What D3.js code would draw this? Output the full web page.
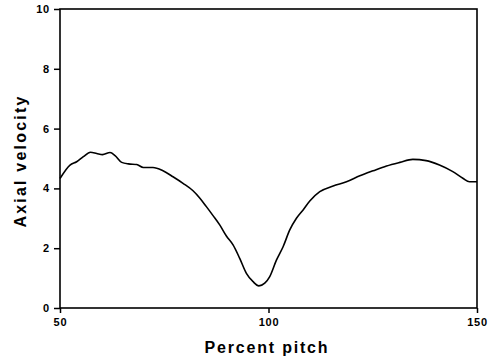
<!DOCTYPE html>
<html>
<head>
<meta charset="utf-8">
<script src="https://cdn.jsdelivr.net/npm/d3@7"></script>
<style>
  body { margin: 0; background: #fff; }
  text { font-family: "Liberation Sans", Arial, Helvetica, sans-serif; font-weight: bold; }
</style>
</head>
<body>
<div id="chart"></div>
<script>
// valores
const pitch = [50, 52.4, 54, 55.6, 57.3, 58.8, 60.2, 62, 63.2, 64.8, 66.4, 68.4, 70, 72.3, 74.7, 77.1, 79.5, 81.9,
  83.5, 85.1, 86.7, 88.3, 89.9, 91.5, 93.1, 94.7, 96.3, 97.7, 99.1, 100.3, 101.9, 103.5, 105.1, 106.7, 108.3,
  109.9, 112.3, 115.5, 118.7, 121.9, 125.1, 128.3, 131.5, 134.6, 137.8, 141, 144.2, 146.6, 148.2, 150];
const velocity = [4.33, 4.78, 4.89, 5.06, 5.21, 5.17, 5.13, 5.2, 5.1, 4.87, 4.82, 4.8, 4.7, 4.7, 4.59, 4.39, 4.17, 3.92,
  3.68, 3.39, 3.09, 2.78, 2.41, 2.11, 1.66, 1.16, 0.88, 0.74, 0.83, 1.05, 1.6, 2.05, 2.61, 3.0, 3.28,
  3.58, 3.89, 4.08, 4.22, 4.42, 4.59, 4.75, 4.87, 4.97, 4.93, 4.78, 4.56, 4.34, 4.22, 4.22];
const xTicks = [50, 100, 150];
const yTicks = [0, 2, 4, 6, 8, 10];

const svg = d3.select("#chart").append("svg").attr("width", 488).attr("height", 360);
const margin = { top: 9, right: 11, bottom: 52, left: 60 };
const width = 488 - margin.left - margin.right;
const height = 360 - margin.top - margin.bottom;

const g = svg.append("g").attr("transform", `translate(${margin.left},${margin.top})`);

const x = d3.scaleLinear().domain([50, 150]).range([0, width]);
const y = d3.scaleLinear().domain([0, 10]).range([height, 0]);

// eixos
const gx = g.append("g").attr("transform", `translate(0,${height})`)
  .call(d3.axisBottom(x).tickValues(xTicks).tickSize(5).tickPadding(5).tickSizeOuter(0));
const gy = g.append("g")
  .call(d3.axisLeft(y).tickValues(yTicks).tickSize(6).tickPadding(4).tickSizeOuter(0));

[gx, gy].forEach(a => {
  a.select(".domain").remove();
  a.selectAll("line").attr("stroke", "#000").attr("stroke-width", 1.5);
  a.selectAll("text").attr("font-size", 11).attr("fill", "#000").attr("letter-spacing", 0.8);
});

// moldura
g.append("rect")
  .attr("x", 0).attr("y", 0).attr("width", width).attr("height", height)
  .attr("fill", "none").attr("stroke", "#000").attr("stroke-width", 1.6);

// curva
const line = d3.line().x((d, i) => x(pitch[i])).y(d => y(d)).curve(d3.curveMonotoneX);
g.append("path")
  .datum(velocity)
  .attr("fill", "none")
  .attr("stroke", "#000")
  .attr("stroke-width", 1.6)
  .attr("d", line);

// títulos
svg.append("text")
  .attr("x", 267).attr("y", 353)
  .attr("text-anchor", "middle").attr("font-size", 16).attr("letter-spacing", 1.8)
  .text("Percent pitch");

svg.append("text")
  .attr("transform", `translate(26,161) rotate(-90)`)
  .attr("text-anchor", "middle").attr("font-size", 16).attr("letter-spacing", 2.2)
  .text("Axial velocity");
</script>
</body>
</html>
